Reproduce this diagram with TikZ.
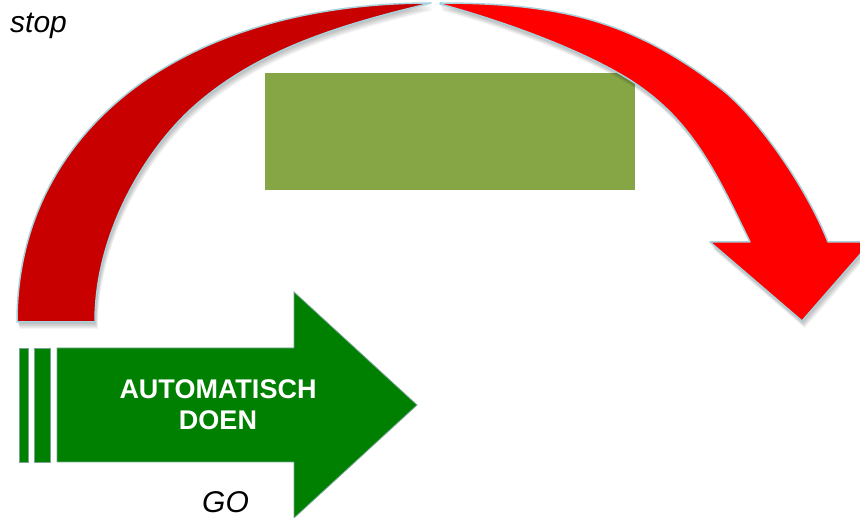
\documentclass[tikz,border=0pt]{standalone}
\usepackage{fontspec}
\setmainfont{Liberation Sans}

\definecolor{arcdark}{RGB}{200,0,0}
\definecolor{arcbright}{RGB}{255,0,0}
\definecolor{panelgreen}{RGB}{134,166,70}
\definecolor{gogreen}{RGB}{0,128,0}
\definecolor{rim}{RGB}{168,211,220}
\definecolor{gorim}{RGB}{120,165,150}

% left half of the bow: wide foot at the bottom, tapering to a point at the top
\def\leftBow{(17,322) .. controls (17,131) and (182,3) .. (431,3)
  .. controls (344,24) and (256,49) .. (190,110)
  .. controls (146,151) and (95,232) .. (95,322) -- cycle}

% right half of the bow: from the point at the top down into the arrowhead
\def\rightBow{(440,3) .. controls (560,3) and (633,21) .. (720,88)
  .. controls (759.5,118.5) and (808,191) .. (828,242)
  -- (871,242) -- (802,321) -- (710,242) -- (750,242)
  .. controls (717,174.5) and (693,120) .. (630,80)
  .. controls (579,48) and (497.6,19.6) .. (440,4) -- cycle}

\tikzset{
  softshadow/.style={fill=black, fill opacity=0.045, draw=none},
  bowdark/.style={fill=arcdark, draw=rim, line width=1.5pt, line join=round},
  bowbright/.style={fill=arcbright, draw=rim, line width=1.5pt, line join=round},
  gofill/.style={fill=gogreen, draw=gorim, line width=0.8pt},
  panel/.style={fill=panelgreen, draw=none, inner sep=0pt,
                minimum width=370pt, minimum height=117pt},
  caption/.style={font=\fontsize{30}{36}\selectfont\itshape, inner sep=0pt},
  golabel/.style={font=\fontsize{27}{31}\selectfont\bfseries, text=white,
                  align=center, inner sep=0pt},
}

\begin{document}
\begin{tikzpicture}[x=1pt,y=-1pt]
  \useasboundingbox (0,0) rectangle (860,518);
  \clip (0,0) rectangle (860,518);

  % olive panel in the middle
  \node[panel] (panel) at (450,131.5) {};

  % soft shadows under the two halves of the bow
  \foreach \s in {1,2,...,7} {
    \fill[softshadow, shift={(0.4*\s,\s)}] \leftBow;
    \fill[softshadow, shift={(0.4*\s,\s)}] \rightBow;
  }

  % the red bow
  \path[bowdark] \leftBow;
  \path[bowbright] \rightBow;

  % green arrow with its two tail bars
  \path[gofill] (19,348) rectangle (28,462);
  \path[gofill] (34,348) rectangle (50,462);
  \path[gofill] (57,348) -- (294,348) -- (294,292) -- (417,405)
                -- (294,518) -- (294,462) -- (57,462) -- cycle;

  \node[golabel] (doen) at (218,405) {AUTOMATISCH\\DOEN};

  % captions
  \node[caption, anchor=base west] (stop) at (10,33) {stop};
  \node[caption, anchor=base west] (go) at (202,512) {GO};
\end{tikzpicture}
\end{document}
